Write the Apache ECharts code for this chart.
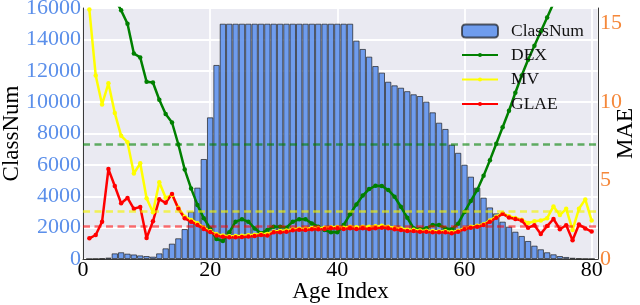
<!DOCTYPE html>
<html>
<head>
<meta charset="utf-8">
<script src="https://cdn.jsdelivr.net/npm/echarts@6/dist/echarts.min.js"></script>
<style>
html,body{margin:0;padding:0;background:#fff;}
#c{width:640px;height:305px;}
</style>
</head>
<body>
<div id="c"></div>
<script>
const ageIndex = [1,2,3,4,5,6,7,8,9,10,11,12,13,14,15,16,17,18,19,20,
  21,22,23,24,25,26,27,28,29,30,31,32,33,34,35,36,37,38,39,40,
  41,42,43,44,45,46,47,48,49,50,51,52,53,54,55,56,57,58,59,60,
  61,62,63,64,65,66,67,68,69,70,71,72,73,74,75,76,77,78,79,80];

const classNum = [10,20,40,90,360,430,340,290,230,190,
  150,360,680,980,1320,1910,3020,4550,6375,9030,
  12370,15000,15000,15000,15000,15000,15000,15000,15000,15000,
  15000,15000,15000,15000,15000,15000,15000,15000,15000,15000,
  15000,15000,13920,13390,12900,12300,11880,11300,11070,10920,
  10700,10500,10390,10030,9350,8690,8290,7290,6770,6010,
  5250,4550,3910,3290,2910,2380,2060,1740,1470,1150,
  850,620,430,300,190,130,80,40,20,10];

const dexMAE = [21.5,20.3,19.1,17.8,16.6,15.85,15.0,13.1,12.85,11.3,
  11.25,10.15,9.25,8.7,7.3,5.7,4.5,3.45,2.6,1.95,
  1.27,1.15,1.7,2.38,2.53,2.38,1.95,1.64,1.85,2.06,
  2.06,2.0,2.38,2.53,2.53,2.27,2.06,1.85,1.7,1.7,
  2.17,2.85,3.48,4.04,4.46,4.67,4.65,4.4,3.97,3.33,
  2.63,1.96,1.92,1.96,2.17,2.17,1.95,1.9,2.25,3.0,
  3.7,4.4,5.3,6.3,7.35,8.4,9.45,10.6,11.7,12.7,
  13.6,14.5,15.4,16.3,17.2,18.1,19.0,19.9,20.8,21.7];

const mvMAE = [15.9,11.7,9.85,11.2,9.3,7.85,7.45,5.45,6.1,3.87,
  2.98,4.89,3.91,4.08,3.27,2.7,2.49,2.28,2.0,1.78,
  1.57,1.5,1.45,1.46,1.48,1.52,1.55,1.6,1.6,1.76,
  1.78,1.82,1.9,1.93,1.94,1.97,1.98,2.0,2.03,2.04,
  2.0,2.05,2.02,2.06,2.05,2.08,2.12,2.06,2.0,1.94,
  1.88,1.86,1.82,1.8,1.78,1.76,1.77,1.72,1.8,1.95,
  2.05,2.12,2.22,2.45,2.7,2.92,2.72,2.62,2.5,2.3,
  2.4,2.45,2.6,3.35,2.8,3.2,1.85,3.2,3.8,2.45];

const glaeMAE = [1.32,1.53,2.38,5.73,4.65,3.55,3.89,3.2,3.32,1.34,
  2.4,3.81,3.58,4.15,3.2,2.59,2.38,2.17,1.91,1.72,
  1.5,1.42,1.38,1.38,1.4,1.44,1.46,1.53,1.5,1.7,
  1.7,1.74,1.83,1.87,1.85,1.9,1.9,1.92,1.96,1.96,
  1.92,1.96,1.92,1.96,1.92,1.96,2.0,1.96,1.9,1.85,
  1.79,1.79,1.74,1.74,1.7,1.7,1.7,1.64,1.74,1.9,
  2.0,2.06,2.17,2.38,2.63,2.88,2.65,2.55,2.45,2.0,
  2.15,1.6,2.1,2.55,1.9,2.15,1.2,2.2,1.95,1.75];

const meanDEX = 7.31;
const meanMV = 3.02;
const meanGLAE = 2.1;

const xTicks = [0,20,40,60,80];
const maeTicks = [0,5,10,15];

const F = 'Liberation Serif';
const pairs = arr => ageIndex.map((a, k) => [a, arr[k]]);

function lineSeries(name, arr, color, mean, dashColor) {
  return {
    type: 'line', name: name, yAxisIndex: 1, data: pairs(arr),
    symbol: 'circle', symbolSize: 4.5, showSymbol: true, clip: true,
    lineStyle: {color: color, width: 2.5},
    itemStyle: {color: color},
    markLine: {
      silent: true, symbol: ['none','none'], label: {show: false},
      lineStyle: {color: dashColor, type: [7,4.5], width: 2.5},
      data: [{yAxis: mean}]
    }
  };
}

const chart = echarts.init(document.getElementById('c'));
chart.setOption({
  animation: false,
  backgroundColor: '#fff',
  grid: {left: 83, right: 42, top: 8, bottom: 46, show: true,
    containLabel: false, outerBoundsMode: 'none',
    backgroundColor: '#EAEAF2', borderColor: '#3a3a3a', borderWidth: 1},
  xAxis: {
    type: 'value', min: 0, max: 81, interval: 20,
    name: 'Age Index', nameLocation: 'middle', nameGap: 21, nameMoveOverlap: false,
    nameTextStyle: {fontFamily: F, fontSize: 23, color: '#000'},
    axisLine: {show: true, lineStyle: {color: '#3a3a3a', width: 1}},
    axisTick: {show: false},
    axisLabel: {fontFamily: F, fontSize: 22, color: '#000', margin: 0,
      formatter: v => xTicks.includes(v) ? String(v) : ''},
    splitLine: {show: true, lineStyle: {color: '#fff', width: 1.8}}
  },
  yAxis: [
    {
      type: 'value', min: 0, max: 16000, interval: 2000,
      name: 'ClassNum', nameLocation: 'middle', nameGap: 60, nameRotate: 90, nameMoveOverlap: false,
      nameTextStyle: {fontFamily: F, fontSize: 23, color: '#000'},
      axisLine: {show: true, lineStyle: {color: '#3a3a3a', width: 1}},
      axisTick: {show: false},
      axisLabel: {fontFamily: F, fontSize: 22, color: '#5B8FEA', margin: 2,
        formatter: v => String(v)},
      splitLine: {show: true, lineStyle: {color: '#fff', width: 1.8}}
    },
    {
      type: 'value', position: 'right', min: 0, max: 16, interval: 5,
      name: 'MAE', nameLocation: 'middle', nameGap: 16, nameRotate: 90, nameMoveOverlap: false,
      nameTextStyle: {fontFamily: F, fontSize: 23, color: '#000'},
      axisLine: {show: true, lineStyle: {color: '#3a3a3a', width: 1}},
      axisTick: {show: false},
      axisLabel: {fontFamily: F, fontSize: 22, color: '#F5883A', margin: 2,
        formatter: v => maeTicks.includes(v) ? String(v) : ''},
      splitLine: {show: false}
    }
  ],
  legend: [
    {
      data: ['ClassNum'], left: 461, top: 22, padding: 0, itemWidth: 36, itemHeight: 13,
      textStyle: {fontFamily: F, fontSize: 17.5, color: '#111', padding: [0,0,0,8]}
    },
    {
      data: ['DEX','MV','GLAE'], orient: 'vertical', left: 461, top: 46, padding: 0,
      itemWidth: 36, itemHeight: 5, itemGap: 6.5,
      textStyle: {fontFamily: F, fontSize: 17.5, color: '#111', lineHeight: 18, padding: [0,0,0,8]}
    }
  ],
  series: [
    {
      type: 'bar', name: 'ClassNum', yAxisIndex: 0, data: pairs(classNum),
      barWidth: '100%',
      itemStyle: {color: 'rgba(100,149,237,0.92)', borderColor: 'rgba(20,20,20,0.65)', borderWidth: 1}
    },
    lineSeries('DEX', dexMAE, '#008000', meanDEX, 'rgba(0,128,0,0.6)'),
    lineSeries('MV', mvMAE, '#FFFF00', meanMV, 'rgba(245,245,0,0.65)'),
    lineSeries('GLAE', glaeMAE, '#FF0000', meanGLAE, 'rgba(255,0,0,0.55)')
  ]
});
</script>
</body>
</html>
